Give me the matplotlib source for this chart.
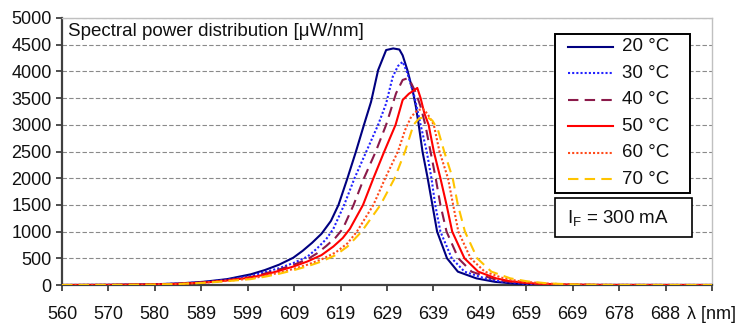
import matplotlib
matplotlib.use("Agg")
import matplotlib.pyplot as plt
from matplotlib.patches import Rectangle
from matplotlib.lines import Line2D

plt.rcParams['font.family'] = ['Liberation Sans', 'DejaVu Sans']
plt.rcParams['mathtext.fontset'] = 'custom'
plt.rcParams['mathtext.rm'] = 'Liberation Sans'
plt.rcParams['mathtext.it'] = 'Liberation Sans:italic'

# ---------------- data ----------------
tick_labels = ["560", "570", "580", "589", "599", "609", "619", "629", "639",
               "649", "659", "669", "678", "688", "λ [nm]"]
tick_step = 9.84  # nm per labelled category tick

wl20 = [560, 570, 580, 585, 590, 595, 600, 603, 606, 609, 611, 613, 615, 617, 618.6, 620.5,
        622.3, 624, 625.5, 627, 628.7, 630.2, 631.5, 632.2, 633.2, 634.3, 635, 635.6,
        636.4, 637.5, 638.5, 639.5, 641.6, 643.9, 647.8, 651.7, 656, 662, 670, 698]
sp20 = [0, 3, 15, 30, 60, 110, 200, 280, 380, 510, 640, 790, 960, 1200, 1500, 2000,
        2500, 3000, 3430, 4025, 4400, 4430, 4410, 4300, 4025, 3650, 3340, 3000,
        2500, 2000, 1500, 1000, 500, 250, 125, 60, 25, 6, 1, 0]

wl30 = [560, 570, 580, 585, 590, 595, 600, 603, 606, 609, 612, 614, 616, 617.5, 619.8, 622,
        624.5, 627, 628.7, 630.1, 631.2, 632.2, 633.2, 634.7, 636, 637.3, 638.3,
        639.1, 640.2, 642.6, 645.3, 649.6, 653, 658, 664, 672, 698]
sp30 = [0, 3, 14, 28, 55, 100, 170, 240, 315, 410, 530, 680, 860, 1050, 1500, 2000,
        2500, 3000, 3400, 3900, 4100, 4180, 3970, 3527, 3000, 2500, 2000,
        1500, 1000, 500, 250, 125, 65, 25, 7, 1, 0]

wl40 = [560, 570, 580, 585, 590, 595, 600, 603, 606, 609, 612, 614, 616, 618, 619.5, 621.8, 624,
        626.5, 628.7, 630.8, 632.2, 633.2, 633.9, 635, 636, 637, 638.1, 639.2,
        640.2, 641.5, 644, 646.8, 651, 654, 659, 665, 673, 698]
sp40 = [0, 2, 12, 25, 50, 90, 150, 215, 290, 375, 480, 590, 730, 890, 1050, 1500, 2000,
        2500, 3000, 3590, 3840, 3870, 3800, 3600, 3340, 3000, 2500, 2000,
        1500, 1000, 500, 250, 125, 70, 30, 8, 1, 0]

wl50 = [560, 570, 580, 585, 590, 595, 600, 603, 606, 609, 612, 615, 617.5, 619.5, 621, 623.8, 626,
        628.3, 630.7, 632.2, 633.5, 634.5, 635.3, 636, 636.8, 637.7, 638.8, 640.2,
        641.5, 642.7, 645.3, 648.2, 652, 655, 660, 666, 674, 698]
sp50 = [0, 2, 11, 23, 45, 85, 140, 195, 265, 345, 440, 560, 720, 880, 1050, 1500, 2000,
        2500, 3000, 3465, 3580, 3640, 3690, 3500, 3215, 3000, 2500, 2000,
        1500, 1000, 500, 250, 125, 70, 30, 9, 1, 0]

wl60 = [560, 570, 580, 585, 590, 595, 600, 603, 606, 609, 612, 615, 618, 620.5, 622.5, 626, 628.5,
        631.2, 632.7, 634, 635.3, 636.5, 637.5, 638.8, 640, 641.8, 642.9, 644,
        646.6, 649.6, 653.6, 657, 662, 668, 676, 698]
sp60 = [0, 2, 10, 21, 42, 78, 120, 170, 230, 300, 380, 480, 610, 780, 1000, 1500, 2000,
        2500, 2900, 3150, 3270, 3300, 3200, 3000, 2500, 2000, 1500, 1000,
        500, 250, 125, 70, 30, 9, 1, 0]

wl70 = [560, 570, 580, 585, 590, 595, 600, 603, 606, 609, 612, 615, 618, 620.5, 623.5, 627.5, 630.5,
        632.7, 634.5, 635.7, 637.3, 638.5, 639.7, 641, 642.8, 643.9, 645.4, 648,
        651, 655, 658.5, 663, 669, 677, 698]
sp70 = [0, 2, 9, 20, 40, 72, 110, 155, 210, 275, 350, 440, 560, 720, 1000, 1500, 2000,
        2500, 3000, 3120, 3150, 3080, 2900, 2500, 2000, 1500, 1000, 500,
        250, 125, 70, 30, 9, 1, 0]

series_labels = ["20 °C", "30 °C", "40 °C", "50 °C", "60 °C", "70 °C"]
y_ticks = list(range(0, 5001, 500))

# ---------------- styles ----------------
styles = [
    dict(color="#000080", ls="-", lw=1.5),
    dict(color="#2222ff", ls=(0, (1, 1)), lw=1.5),
    dict(color="#8b1a4a", ls=(0, (5, 3)), lw=1.5),
    dict(color="#ff0000", ls="-", lw=1.5),
    dict(color="#ff4a1a", ls=(0, (1, 1)), lw=1.5),
    dict(color="#ffc400", ls=(0, (5, 3)), lw=1.5),
]

W, H = 740, 324
fig = plt.figure(figsize=(W / 100, H / 100), dpi=100)
L, R, T, B = 62, 712, 18, 285
ax = fig.add_axes([L / W, 1 - B / H, (R - L) / W, (B - T) / H])

data = [(wl20, sp20), (wl30, sp30), (wl40, sp40), (wl50, sp50), (wl60, sp60), (wl70, sp70)]
for (wl, sp), st, lab in zip(data, styles, series_labels):
    ax.plot(wl, sp, color=st["color"], linestyle=st["ls"], linewidth=st["lw"], label=lab, zorder=3)

xmin = 560
xmax = xmin + tick_step * (len(tick_labels) - 1)
ax.set_xlim(xmin, xmax)
ax.set_ylim(0, 5000)
ax.set_xticks([xmin + i * tick_step for i in range(len(tick_labels))])
ax.set_xticklabels(tick_labels)
ax.set_yticks(y_ticks)
ax.set_yticklabels([str(v) for v in y_ticks])

ax.grid(axis="y", color="#8a8a8a", linestyle=(0, (4, 2)), linewidth=0.8, zorder=0)
ax.set_axisbelow(True)
ax.tick_params(axis="both", which="major", labelsize=13, direction="out",
               length=4, width=1.3, color="#404040", labelcolor="#111111")
ax.tick_params(axis="y", pad=3.5)
ax.tick_params(axis="x", pad=11)
for s in ["left", "bottom"]:
    ax.spines[s].set_color("#404040")
    ax.spines[s].set_linewidth(1.6)
for s in ["top", "right"]:
    ax.spines[s].set_color("#c0c0c0")
    ax.spines[s].set_linewidth(1.0)

ax.text((68 - L) / (R - L), (B - 31) / (B - T), "Spectral power distribution [μW/nm]",
        transform=ax.transAxes, fontsize=13.5, va="center", ha="left", color="#111111")

# ---------------- legend (drawn in pixel coordinates) ----------------
def fx(px):
    return px / W

def fy(py):
    return 1 - py / H

fig.add_artist(Rectangle((fx(555), fy(193)), fx(690) - fx(555), fy(34) - fy(193),
                         transform=fig.transFigure, facecolor="white",
                         edgecolor="black", linewidth=1.4, zorder=10))
row_y = [46.7, 73.2, 99.7, 126.2, 152.7, 179.2]
for yy, st, lab in zip(row_y, styles, series_labels):
    fig.add_artist(Line2D([fx(568), fx(613)], [fy(yy), fy(yy)], transform=fig.transFigure,
                          color=st["color"], linestyle=st["ls"], linewidth=st["lw"], zorder=11))
    fig.text(fx(622), fy(yy), lab, fontsize=13.5, va="center", ha="left", zorder=11, color="#111111")

fig.add_artist(Rectangle((fx(555), fy(237)), fx(692) - fx(555), fy(198) - fy(237),
                         transform=fig.transFigure, facecolor="white",
                         edgecolor="black", linewidth=1.2, zorder=10))
fig.text(fx(618), fy(218), r"I$_{\mathrm{F}}$ = 300 mA", fontsize=13.5, va="center",
         ha="center", zorder=11, color="#111111")

fig.savefig("out.png", dpi=100, facecolor="white")
